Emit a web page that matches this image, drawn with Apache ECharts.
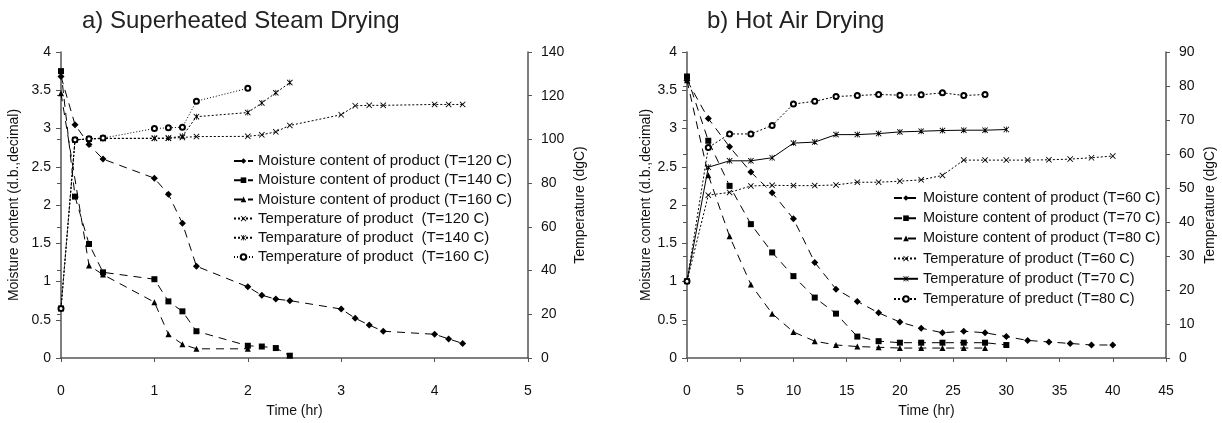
<!DOCTYPE html>
<html>
<head>
<meta charset="utf-8">
<script src="https://cdn.jsdelivr.net/npm/echarts@6/dist/echarts.min.js"></script>
<style>
  html, body { margin: 0; padding: 0; background: #fff; }
  #container { width: 1222px; height: 423px; }
</style>
</head>
<body>
<div id="container"></div>
<script>
// a) superheated steam drying (time in hr)
var steamTime = [0, 0.15, 0.3, 0.45, 1, 1.15, 1.3, 1.45, 2, 2.15, 2.3, 2.45, 3, 3.15, 3.3, 3.45, 4, 4.15, 4.3];
var steamTime160 = [0, 0.3, 0.45, 1, 1.15, 1.3, 1.45, 2];
var moist120 = [3.68, 3.05, 2.79, 2.6, 2.35, 2.14, 1.76, 1.2, 0.93, 0.82, 0.77, 0.75, 0.64, 0.52, 0.43, 0.35, 0.31, 0.25, 0.19];
var moist140 = [3.75, 2.11, 1.49, 1.12, 1.03, 0.74, 0.61, 0.35, 0.16, 0.15, 0.13, 0.03];
var moist160 = [3.46, 1.21, 1.09, 0.73, 0.31, 0.18, 0.12, 0.12];
var temp120 = [22.7, 99.8, 100.2, 100.4, 100.5, 100.5, 100.9, 101.3, 101.4, 102.1, 103.5, 106.4, 111.3, 115.4, 115.6, 115.6, 116, 116, 116];
var temp140 = [22.7, 99.8, 100.2, 100.5, 100.5, 100.6, 101.5, 110.4, 112.3, 116.7, 121.3, 126];
var temp160 = [22.7, 99.8, 100.3, 100.6, 105, 105.3, 105.6, 117.5, 123.4];

// b) hot air drying (time in hr)
var airTime = [0, 2, 4, 6, 8, 10, 12, 14, 16, 18, 20, 22, 24, 26, 28, 30, 32, 34, 36, 38, 40];
var moist60 = [3.63, 3.13, 2.76, 2.43, 2.16, 1.82, 1.25, 0.9, 0.74, 0.59, 0.47, 0.39, 0.33, 0.35, 0.33, 0.28, 0.23, 0.21, 0.19, 0.17, 0.17];
var moist70 = [3.68, 2.84, 2.25, 1.75, 1.38, 1.07, 0.79, 0.58, 0.28, 0.22, 0.2, 0.2, 0.2, 0.2, 0.2, 0.17];
var moist80 = [3.63, 2.39, 1.59, 0.96, 0.58, 0.34, 0.22, 0.17, 0.15, 0.14, 0.13, 0.13, 0.13, 0.13, 0.13];
var temp60 = [22.6, 47.9, 48.7, 50.6, 50.8, 50.7, 50.7, 50.9, 51.7, 51.7, 52, 52.4, 53.7, 58.2, 58.2, 58.2, 58.2, 58.3, 58.5, 58.9, 59.4];
var temp70 = [22.6, 56.1, 58, 58, 58.9, 63.2, 63.5, 65.7, 65.7, 66, 66.5, 66.7, 66.9, 67, 67, 67.2];
var temp80 = [22.6, 61.9, 65.9, 65.9, 68.4, 74.7, 75.5, 76.9, 77.2, 77.5, 77.3, 77.4, 78, 77.2, 77.5];

var legendA = ['Moisture content of product (T=120 C)', 'Moisture content of product (T=140 C)', 'Moisture content of product (T=160 C)',
  'Temperature of product  (T=120 C)', 'Temparature of product  (T=140 C)', 'Temperature of product  (T=160 C)'];
var legendB = ['Moisture content of product (T=60 C)', 'Moisture content of product (T=70 C)', 'Moisture content of product (T=80 C)',
  'Temperature of product (T=60 C)', 'Temperature of product (T=70 C)', 'Temperature of preduct (T=80 C)'];

var crossSym = 'path://M0,1L1,0L5,4L9,0L10,1L6,5L10,9L9,10L5,6L1,10L0,9L4,5Z';
var starSym = 'path://M0,1L1,0L5,4L9,0L10,1L6,5L10,9L9,10L5,6L1,10L0,9L4,5Z M4.4,0H5.6V10H4.4Z';

function pairs(xs, ys) {
  return ys.map(function (y, i) { return [xs[i], y]; });
}

function line(name, xs, ys, grid, yIdx, symbol, size, dash) {
  var hollow = symbol === 'emptyCircle';
  return {
    name: name,
    type: 'line',
    xAxisIndex: grid,
    yAxisIndex: yIdx,
    data: pairs(xs, ys),
    symbol: symbol,
    symbolSize: size,
    showAllSymbol: true,
    lineStyle: { color: '#000', width: 1, type: dash },
    itemStyle: { color: '#000', borderColor: '#000', borderWidth: hollow ? 1 : 0 },
    emphasis: { disabled: true }
  };
}

var txt = { fontFamily: 'Liberation Sans', color: '#111' };
var axisLine = { lineStyle: { color: '#555', width: 1.5 } };

function xAx(grid, max, interval) {
  return {
    type: 'value', gridIndex: grid, min: 0, max: max, interval: interval,
    name: 'Time (hr)', nameLocation: 'middle', nameGap: 46,
    nameTextStyle: Object.assign({ fontSize: 14 }, txt),
    axisLine: axisLine, splitLine: { show: false },
    axisTick: { length: 4, lineStyle: { color: '#555' } },
    axisLabel: Object.assign({ fontSize: 14, margin: 26 }, txt)
  };
}

function yLeft(grid, gap) {
  return {
    type: 'value', gridIndex: grid, position: 'left', min: 0, max: 4, interval: 0.5,
    name: 'Moisture content (d.b.,decimal)', nameLocation: 'middle', nameGap: gap,
    nameTextStyle: Object.assign({ fontSize: 14 }, txt),
    axisLine: Object.assign({ onZero: false }, axisLine), splitLine: { show: false },
    axisTick: { show: true, length: 5, lineStyle: { color: '#555' } },
    axisLabel: Object.assign({ fontSize: 14, margin: 10 }, txt)
  };
}

function yRight(grid, max, interval, gap) {
  return {
    type: 'value', gridIndex: grid, position: 'right', min: 0, max: max, interval: interval,
    name: 'Temperature (dgC)', nameLocation: 'middle', nameGap: gap,
    nameTextStyle: Object.assign({ fontSize: 14 }, txt),
    axisLine: Object.assign({ onZero: false }, axisLine), splitLine: { show: false },
    axisTick: { show: true, length: 4, lineStyle: { color: '#555' } },
    axisLabel: Object.assign({ fontSize: 14, margin: 13 }, txt)
  };
}

// ticks on the inner side of the right axes (crossing ticks)
function yRightInner(grid, max, interval) {
  return {
    type: 'value', gridIndex: grid, position: 'right', min: 0, max: max, interval: interval,
    axisLine: { show: false }, splitLine: { show: false }, axisLabel: { show: false },
    axisTick: { show: true, inside: true, length: 4, lineStyle: { color: '#555' } }
  };
}

var dom = document.getElementById('container');
var myChart = echarts.init(dom, null, { renderer: 'canvas' });

var option = {
  animation: false,
  backgroundColor: '#fff',
  title: [
    { text: 'a) Superheated Steam Drying', left: 82, top: 9, padding: 0,
      textStyle: { fontFamily: 'Liberation Sans', fontSize: 24, fontWeight: 'normal', color: '#222' } },
    { text: 'b) Hot Air Drying', left: 707, top: 9, padding: 0,
      textStyle: { fontFamily: 'Liberation Sans', fontSize: 24, fontWeight: 'normal', color: '#222' } }
  ],
  legend: [
    { data: legendA, orient: 'vertical', left: 233, top: 153, padding: 0,
      itemWidth: 19, itemHeight: 7, itemGap: 3.2,
      textStyle: Object.assign({ fontSize: 15, lineHeight: 16 }, txt) },
    { data: legendB, orient: 'vertical', left: 893, top: 190, padding: 0,
      itemWidth: 24, itemHeight: 7, itemGap: 4.2,
      textStyle: Object.assign({ fontSize: 14.5, lineHeight: 16 }, txt) }
  ],
  grid: [
    { left: 61, right: 694, top: 52, bottom: 64 },
    { left: 687, right: 56, top: 52, bottom: 64 }
  ],
  xAxis: [xAx(0, 5, 1), xAx(1, 45, 5)],
  yAxis: [
    yLeft(0, 40), yRight(0, 140, 20, 45), yRightInner(0, 140, 20),
    yLeft(1, 34), yRight(1, 90, 10, 37), yRightInner(1, 90, 10)
  ],
  series: [
    line(legendA[0], steamTime, moist120, 0, 0, 'diamond', 7, [8, 6]),
    line(legendA[1], steamTime, moist140, 0, 0, 'rect', 6, [8, 6]),
    line(legendA[2], steamTime160, moist160, 0, 0, 'triangle', 6, [8, 6]),
    line(legendA[3], steamTime, temp120, 0, 1, crossSym, 6, [2, 2]),
    line(legendA[4], steamTime, temp140, 0, 1, starSym, 6, [2, 2]),
    line(legendA[5], steamTime, temp160, 0, 1, 'emptyCircle', 5, [1, 2]),
    line(legendB[0], airTime, moist60, 1, 3, 'diamond', 7, [8, 6]),
    line(legendB[1], airTime, moist70, 1, 3, 'rect', 6, [8, 6]),
    line(legendB[2], airTime, moist80, 1, 3, 'triangle', 6, [8, 6]),
    line(legendB[3], airTime, temp60, 1, 4, crossSym, 6, [2, 2]),
    line(legendB[4], airTime, temp70, 1, 4, starSym, 6, 'solid'),
    line(legendB[5], airTime, temp80, 1, 4, 'emptyCircle', 5, [2, 2])
  ]
};

myChart.setOption(option);
window.addEventListener('resize', myChart.resize);
</script>
</body>
</html>
